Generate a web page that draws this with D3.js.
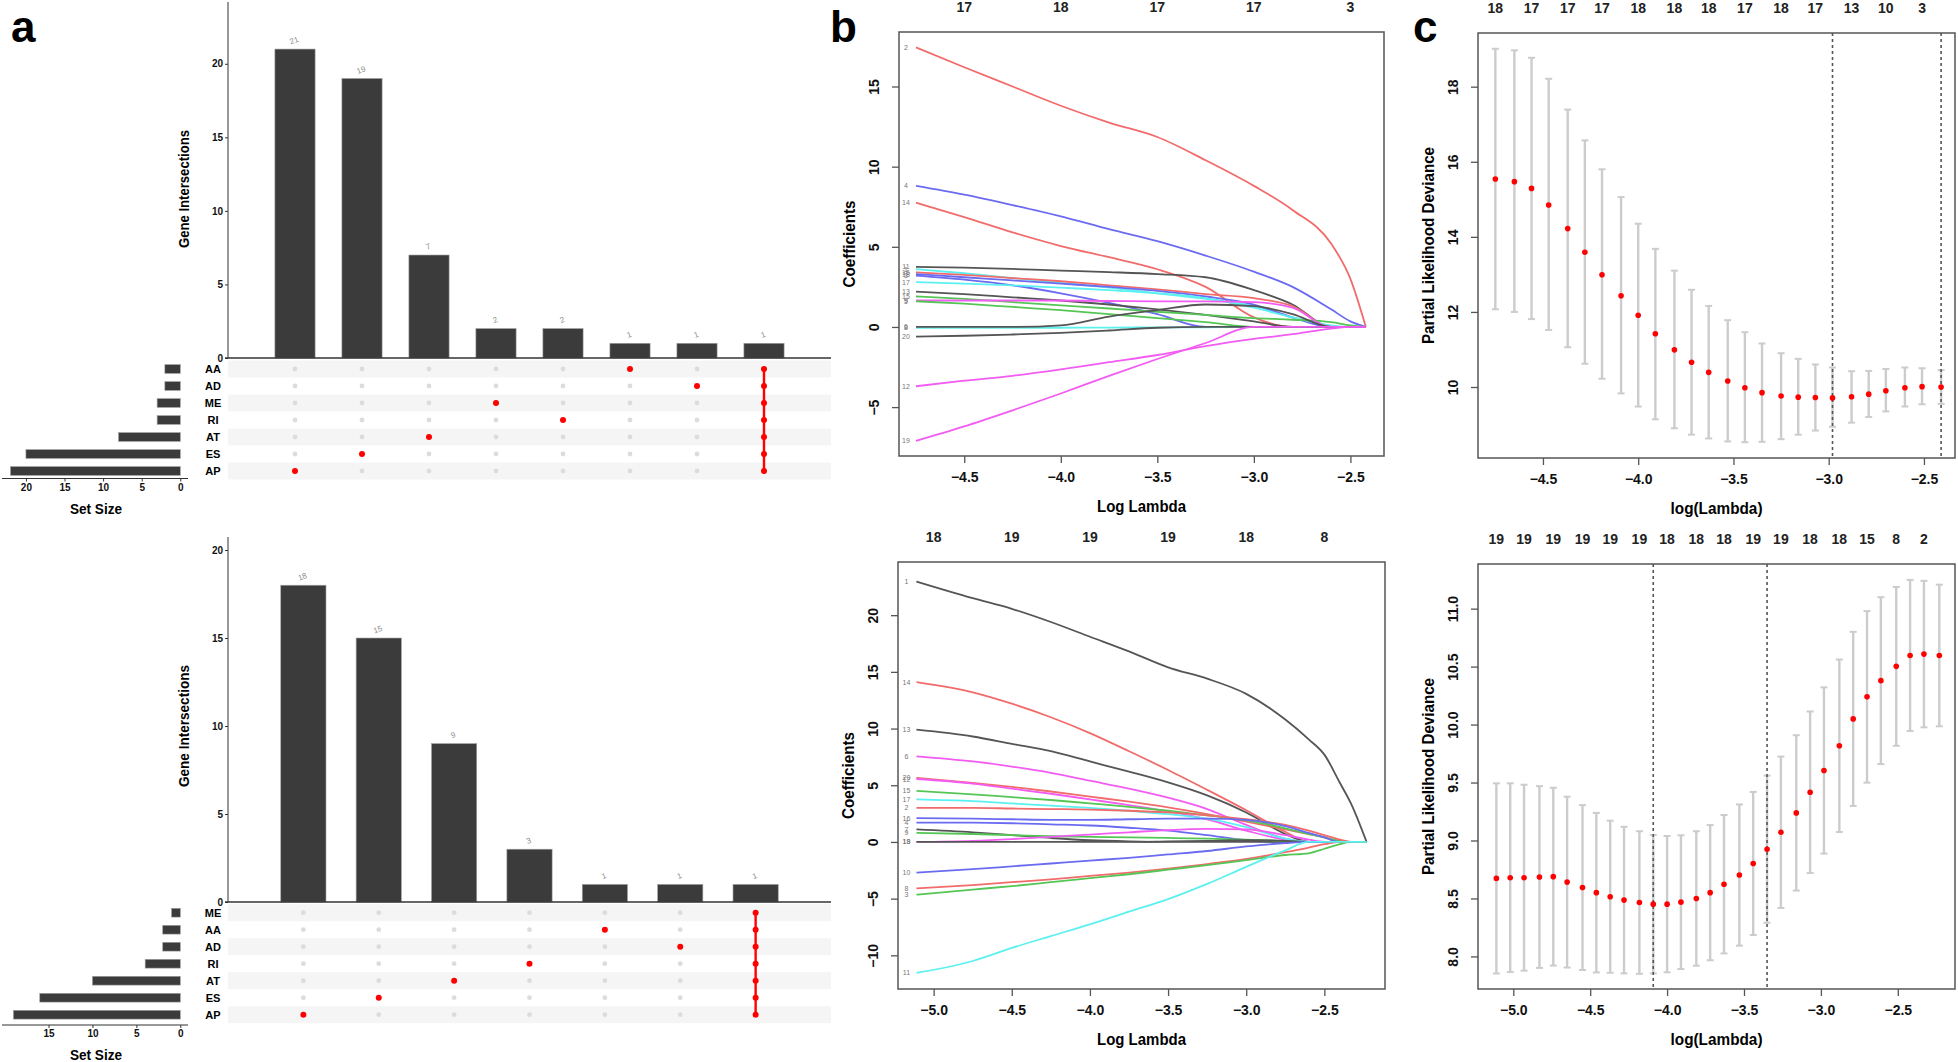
<!DOCTYPE html>
<html>
<head>
<meta charset="utf-8">
<script src="https://cdn.jsdelivr.net/npm/d3@7"></script>
<style>
  body { margin: 0; background: #fff; }
  svg { display: block; }
  text { font-family: "Liberation Sans", Arial, Helvetica, sans-serif; }
</style>
</head>
<body>
<svg id="fig" width="1958" height="1062"></svg>
<script>
// ---------- panel a : upset plots ----------
var setsA1 = ["AA", "AD", "ME", "RI", "AT", "ES", "AP"];
var setSizeA1 = [2, 2, 3, 3, 8, 20, 22];
var interCountA1 = [21, 19, 7, 2, 2, 1, 1, 1];
var interSetsA1 = [["AP"], ["ES"], ["AT"], ["ME"], ["RI"], ["AA"], ["AD"],
                   ["AA", "AD", "ME", "RI", "AT", "ES", "AP"]];
var interTicksA1 = [0, 5, 10, 15, 20];
var sizeTicksA1 = [0, 5, 10, 15, 20];

var setsA2 = ["ME", "AA", "AD", "RI", "AT", "ES", "AP"];
var setSizeA2 = [1, 2, 2, 4, 10, 16, 19];
var interCountA2 = [18, 15, 9, 3, 1, 1, 1];
var interSetsA2 = [["AP"], ["ES"], ["AT"], ["RI"], ["AA"], ["AD"],
                   ["ME", "AA", "AD", "RI", "AT", "ES", "AP"]];
var interTicksA2 = [0, 5, 10, 15, 20];
var sizeTicksA2 = [0, 5, 10, 15];

// ---------- panel b : coefficient paths ----------
var logLambdaB1 = [-4.75, -4.5, -4.25, -4.0, -3.75, -3.5, -3.25, -3.0, -2.8, -2.6, -2.5, -2.42];
var coefB1 = [
  ["2",  [17.44, 16.2, 15.0, 13.8, 12.75, 11.85, 10.4, 8.8, 7.3, 5.2, 3.0, 0]],
  ["4",  [8.8, 8.25, 7.6, 6.9, 6.1, 5.35, 4.45, 3.45, 2.5, 1.1, 0.35, 0]],
  ["14", [7.75, 6.85, 5.9, 5.05, 4.35, 3.6, 2.5, 0.6, 0, 0, 0, 0]],
  ["11", [3.75, 3.7, 3.62, 3.52, 3.42, 3.3, 3.1, 2.3, 1.4, 0, 0, 0]],
  ["1",  [3.6, 3.35, 3.05, 2.75, 2.45, 2.1, 1.75, 1.3, 0.6, 0, 0, 0]],
  ["16", [3.4, 3.25, 3.05, 2.85, 2.6, 2.35, 2.05, 1.8, 1.3, 0, 0, 0]],
  ["18", [3.3, 3.1, 2.9, 2.7, 2.5, 2.25, 1.9, 1.4, 0.6, 0, 0, 0]],
  ["3",  [3.2, 2.95, 2.6, 2.1, 1.5, 0.8, 0, 0, 0, 0, 0, 0]],
  ["17", [2.8, 2.7, 2.6, 2.45, 2.3, 2.1, 1.8, 1.2, 0.6, 0.1, 0, 0]],
  ["13", [2.2, 2.05, 1.85, 1.65, 1.4, 1.1, 0.75, 0.35, 0, 0, 0, 0]],
  ["15", [1.9, 1.75, 1.55, 1.35, 1.15, 0.95, 0.75, 0.55, 0.45, 0.3, 0.1, 0]],
  ["9",  [1.65, 1.65, 1.65, 1.65, 1.62, 1.6, 1.6, 1.55, 1.2, 0, 0, 0]],
  ["5",  [1.6, 1.45, 1.25, 1.05, 0.8, 0.55, 0.3, 0, 0, 0, 0, 0]],
  ["8",  [-0.05, -0.05, -0.05, -0.05, -0.04, -0.03, -0.02, 0, 0, 0, 0, 0]],
  ["6",  [0, 0, 0, 0.1, 0.65, 1.05, 1.4, 1.3, 0.8, 0, 0, 0]],
  ["20", [-0.6, -0.55, -0.47, -0.37, -0.22, -0.05, 0, 0, 0, 0, 0, 0]],
  ["12", [-3.7, -3.35, -3.05, -2.65, -2.2, -1.75, -1.2, -0.75, -0.45, -0.1, 0, 0]],
  ["19", [-7.1, -6.2, -5.2, -4.15, -3.05, -2.0, -1.0, 0, 0, 0, 0, 0]]
];
var colourB1 = ["r", "b", "r", "k", "c", "r", "b", "b", "c", "k", "g", "m", "g", "c", "k", "k", "m", "m"];
var topNumB1 = [17, 18, 17, 17, 3];
var xTicksB1 = [-4.5, -4.0, -3.5, -3.0, -2.5];
var yTicksB1 = [-5, 0, 5, 10, 15];

var logLambdaB2 = [-5.11, -4.75, -4.5, -4.25, -4.0, -3.75, -3.5, -3.25, -3.0, -2.75, -2.6, -2.5, -2.4, -2.33, -2.23];
var coefB2 = [
  ["1",  [22.97, 21.5, 20.56, 19.4, 18.1, 16.8, 15.4, 14.4, 13.06, 10.8, 9.05, 7.7, 5.2, 3.4, 0]],
  ["14", [14.1, 13.2, 12.2, 11.0, 9.6, 8.0, 6.35, 4.6, 2.8, 0.9, 0, 0, 0, 0, 0]],
  ["13", [9.9, 9.3, 8.65, 8.0, 7.1, 6.2, 5.25, 4.1, 2.6, 0.7, 0, 0, 0, 0, 0]],
  ["6",  [7.55, 7.1, 6.65, 6.1, 5.4, 4.7, 3.9, 2.9, 1.5, 0.3, 0, 0, 0, 0, 0]],
  ["20", [5.65, 5.2, 4.85, 4.45, 4.0, 3.55, 3.05, 2.45, 1.8, 1.1, 0.7, 0.4, 0, 0, 0]],
  ["12", [5.55, 5.15, 4.7, 4.25, 3.75, 3.25, 2.7, 2.0, 1.0, 0.2, 0, 0, 0, 0, 0]],
  ["15", [4.5, 4.2, 3.95, 3.7, 3.4, 3.1, 2.75, 2.35, 1.9, 1.2, 0.7, 0.4, 0.1, 0, 0]],
  ["17", [3.75, 3.6, 3.4, 3.2, 3.0, 2.75, 2.45, 2.05, 1.3, 0.3, 0, 0, 0, 0, 0]],
  ["2",  [3.0, 3.0, 2.95, 2.9, 2.85, 2.75, 2.6, 2.35, 2.0, 1.5, 1.0, 0.6, 0.2, 0, 0]],
  ["16", [2.1, 2.05, 2.0, 1.95, 1.95, 2.0, 2.05, 2.05, 1.95, 1.4, 0.8, 0.4, 0, 0, 0]],
  ["4",  [1.7, 1.7, 1.65, 1.55, 1.45, 1.25, 1.0, 0.6, 0.15, 0, 0, 0, 0, 0, 0]],
  ["7",  [1.1, 0.85, 0.6, 0.35, 0.15, 0.05, 0, 0, 0, 0, 0, 0, 0, 0, 0]],
  ["9",  [0.8, 0.7, 0.6, 0.5, 0.45, 0.4, 0.35, 0.3, 0.2, 0.1, 0, 0, 0, 0, 0]],
  ["18", [0, 0.1, 0.25, 0.45, 0.65, 0.85, 1.05, 1.15, 1.1, 0.6, 0.2, 0, 0, 0, 0]],
  ["19", [0, 0, 0, 0, 0, 0, 0.05, 0.1, 0.15, 0.1, 0, 0, 0, 0, 0]],
  ["10", [-2.7, -2.4, -2.15, -1.9, -1.65, -1.4, -1.1, -0.8, -0.4, -0.1, 0, 0, 0, 0, 0]],
  ["8",  [-4.1, -3.8, -3.55, -3.3, -3.0, -2.7, -2.35, -1.95, -1.5, -0.9, -0.5, -0.2, 0, 0, 0]],
  ["3",  [-4.65, -4.2, -3.9, -3.55, -3.2, -2.85, -2.45, -2.05, -1.6, -1.15, -1.0, -0.6, -0.2, 0, 0]],
  ["11", [-11.55, -10.5, -9.35, -8.3, -7.27, -6.15, -5.04, -3.7, -2.2, -0.74, 0, 0, 0, 0, 0]]
];
var colourB2 = ["k", "r", "k", "m", "r", "m", "g", "c", "r", "b", "b", "k", "g", "m", "k", "b", "r", "g", "c"];
var topNumB2 = [18, 19, 19, 19, 18, 8];
var xTicksB2 = [-5.0, -4.5, -4.0, -3.5, -3.0, -2.5];
var yTicksB2 = [-10, -5, 0, 5, 10, 15, 20];

// ---------- panel c : cross-validation curves ----------
var logLambdaC1 = [-4.75, -4.65, -4.56, -4.47, -4.37, -4.28, -4.19, -4.09, -4.00, -3.91, -3.81, -3.72, -3.63,
                   -3.53, -3.44, -3.35, -3.25, -3.16, -3.07, -2.98, -2.88, -2.79, -2.70, -2.60, -2.51, -2.41];
var cvmC1 = [15.54, 15.47, 15.29, 14.85, 14.22, 13.59, 12.99, 12.43, 11.91, 11.42, 10.99, 10.66, 10.39,
             10.16, 9.98, 9.85, 9.76, 9.73, 9.72, 9.71, 9.74, 9.81, 9.90, 9.98, 10.01, 10.0];
var cvupC1 = [19.01, 18.97, 18.77, 18.21, 17.39, 16.57, 15.80, 15.06, 14.35, 13.68, 13.10, 12.59, 12.16,
              11.78, 11.46, 11.16, 10.90, 10.75, 10.60, 10.52, 10.42, 10.43, 10.48, 10.52, 10.50, 10.45];
var cvloC1 = [12.07, 12.00, 11.81, 11.52, 11.06, 10.62, 10.22, 9.83, 9.48, 9.14, 8.90, 8.73, 8.63,
              8.55, 8.53, 8.54, 8.61, 8.73, 8.84, 8.94, 9.05, 9.20, 9.35, 9.48, 9.54, 9.55];
var nzeroC1 = [18, 17, 17, 17, 18, 18, 18, 17, 18, 17, 13, 10, 3];   // every second lambda
var selLambdaC1 = [-2.98, -2.41];
var xTicksC1 = [-4.5, -4.0, -3.5, -3.0, -2.5];
var yTicksC1 = [10, 12, 14, 16, 18];

var logLambdaC2 = [-5.11, -5.02, -4.93, -4.83, -4.74, -4.65, -4.55, -4.46, -4.37, -4.28, -4.18, -4.09, -4.00, -3.91,
                   -3.81, -3.72, -3.63, -3.53, -3.44, -3.35, -3.26, -3.16, -3.07, -2.98, -2.88, -2.79, -2.70, -2.61,
                   -2.51, -2.42, -2.33, -2.23];
var cvmC2 = [8.673, 8.679, 8.679, 8.685, 8.688, 8.641, 8.594, 8.55, 8.515, 8.486, 8.465, 8.451, 8.451, 8.468,
             8.50, 8.55, 8.623, 8.702, 8.802, 8.925, 9.071, 9.238, 9.416, 9.604, 9.817, 10.049, 10.239, 10.379,
             10.502, 10.596, 10.608, 10.596];
var cvupC2 = [9.493, 9.493, 9.481, 9.469, 9.455, 9.378, 9.305, 9.238, 9.171, 9.118, 9.08, 9.048, 9.039, 9.045,
              9.08, 9.133, 9.22, 9.311, 9.419, 9.56, 9.724, 9.908, 10.113, 10.321, 10.561, 10.80, 10.979, 11.099,
              11.187, 11.248, 11.24, 11.207];
var cvloC2 = [7.853, 7.865, 7.877, 7.901, 7.921, 7.904, 7.883, 7.862, 7.859, 7.854, 7.85, 7.854, 7.863, 7.891,
              7.92, 7.967, 8.026, 8.093, 8.185, 8.29, 8.418, 8.568, 8.719, 8.887, 9.073, 9.298, 9.499, 9.659,
              9.817, 9.944, 9.976, 9.985];
var nzeroC2 = [19, 19, 19, 19, 19, 19, 18, 18, 18, 19, 19, 18, 18, 15, 8, 2];
var selLambdaC2 = [-4.09, -3.35];
var xTicksC2 = [-5.0, -4.5, -4.0, -3.5, -3.0, -2.5];
var yTicksC2 = [8.0, 8.5, 9.0, 9.5, 10.0, 10.5, 11.0];

// R default palette, a little softened like the anti-aliased original
var rPal = {k: "#555555", r: "#F26B6B", g: "#55C655", b: "#6B6BF2", c: "#5CF0F0", m: "#F25CF2"};

var svg = d3.select("#fig");
var fmt1 = d3.format(".1f");

function upset(o) {
    var g = svg.append("g");
    var n = o.counts.length;
    var x = d3.scaleLinear().domain([0, n + 1]).range([228, 831]);
    var step = x(1) - x(0);
    var y = d3.scaleLinear().domain([0, o.yMax]).range([o.y0, o.yTop]);
    var row = d3.scalePoint().domain(o.sets).range([o.row0, o.row0 + 17 * (o.sets.length - 1)]);
    var sx = d3.scaleLinear().domain([0, o.sizeMax]).range([180.3, 2]);

    // intersection bars
    g.selectAll(".ibar").data(o.counts).enter().append("rect")
        .attr("x", function(d, i) { return x(i + 1) - step * 0.3; })
        .attr("width", step * 0.6)
        .attr("y", function(d) { return y(d); })
        .attr("height", function(d) { return y(0) - y(d); })
        .attr("fill", "#3b3b3b")
        .attr("stroke", "#a0a0a0").attr("stroke-width", 0.6);

    g.selectAll(".ilab").data(o.counts).enter().append("text")
        .attr("transform", function(d, i) { return "translate(" + x(i + 1) + "," + (y(d) - 6) + ") rotate(-20)"; })
        .attr("text-anchor", "middle")
        .attr("font-size", 8).attr("fill", "#8a8a8a")
        .text(function(d) { return d; });

    var ya = g.append("g").attr("transform", "translate(228,0)")
        .call(d3.axisLeft(y).tickValues(o.iTicks).tickSize(3).tickPadding(2));
    ya.select(".domain").remove();
    ya.selectAll("line").attr("stroke", "#333");
    ya.selectAll("text").attr("font-size", 10).attr("font-weight", "bold").attr("fill", "#111")
        .style("font-family", "'Liberation Sans', Arial, sans-serif");
    g.append("line").attr("x1", 228).attr("x2", 228).attr("y1", o.yTop).attr("y2", y(0))
        .attr("stroke", "#333").attr("stroke-width", 1);
    g.append("line").attr("x1", 225).attr("x2", 831).attr("y1", y(0)).attr("y2", y(0))
        .attr("stroke", "#333").attr("stroke-width", 1.4);

    g.append("text")
        .attr("transform", "translate(" + 189 + "," + o.titleY + ") rotate(-90)")
        .attr("text-anchor", "middle")
        .attr("font-size", 14).attr("font-weight", "bold")
        .attr("textLength", o.titleLen).attr("lengthAdjust", "spacingAndGlyphs")
        .text("Gene Intersections");

    // matrix shading
    g.selectAll(".band").data(o.sets.filter(function(d, i) { return i % 2 === 0; })).enter().append("rect")
        .attr("x", 228).attr("width", 831 - 228)
        .attr("y", function(d) { return row(d) - 8.5; }).attr("height", 17)
        .attr("fill", "#f5f5f5");

    // dots
    o.members.forEach(function(mem, i) {
        var cx = x(i + 1);
        o.sets.forEach(function(s) {
            g.append("circle").attr("cx", cx).attr("cy", row(s)).attr("r", 2.4).attr("fill", "#dcdcdc");
        });
        if (mem.length > 1) {
            var ys = mem.map(function(s) { return row(s); });
            g.append("line").attr("x1", cx).attr("x2", cx)
                .attr("y1", d3.min(ys)).attr("y2", d3.max(ys))
                .attr("stroke", "#ff0000").attr("stroke-width", 2.4);
        }
        mem.forEach(function(s) {
            g.append("circle").attr("cx", cx).attr("cy", row(s)).attr("r", 3).attr("fill", "#ff0000");
        });
    });

    // set names
    g.selectAll(".sname").data(o.sets).enter().append("text")
        .attr("x", 213).attr("y", function(d) { return row(d) + 4; })
        .attr("text-anchor", "middle").attr("font-size", 11).attr("font-weight", "bold")
        .text(function(d) { return d; });

    // set size bars
    g.selectAll(".sbar").data(o.sizes).enter().append("rect")
        .attr("x", function(d) { return sx(d); })
        .attr("width", function(d) { return sx(0) - sx(d); })
        .attr("y", function(d, i) { return row(o.sets[i]) - 4.4; })
        .attr("height", 8.8)
        .attr("fill", "#3b3b3b")
        .attr("stroke", "#a0a0a0").attr("stroke-width", 0.6);

    var sa = g.append("g").attr("transform", "translate(0," + o.sizeAxisY + ")")
        .call(d3.axisBottom(sx).tickValues(o.sTicks).tickSize(3).tickPadding(2));
    sa.select(".domain").remove();
    sa.selectAll("line").attr("stroke", "#333");
    sa.selectAll("text").attr("font-size", 10).attr("font-weight", "bold").attr("fill", "#111")
        .style("font-family", "'Liberation Sans', Arial, sans-serif");
    g.append("line").attr("x1", 2).attr("x2", 188).attr("y1", o.sizeAxisY).attr("y2", o.sizeAxisY)
        .attr("stroke", "#333").attr("stroke-width", 1.2);
    g.append("text").attr("x", 96).attr("y", o.sizeAxisY + 35)
        .attr("text-anchor", "middle").attr("font-size", 14).attr("font-weight", "bold")
        .attr("textLength", 52).attr("lengthAdjust", "spacingAndGlyphs")
        .text("Set Size");
}

function frame(g, o, x, y) {
    var xa = g.append("g").attr("transform", "translate(0," + o.y1 + ")")
        .call(d3.axisBottom(x).tickValues(o.xTicks).tickSize(7).tickPadding(9).tickFormat(fmt1));
    xa.select(".domain").remove();
    xa.selectAll("line").attr("stroke", "#555").attr("stroke-width", 1.3);
    xa.selectAll("text").attr("font-size", 14).attr("font-weight", "bold").attr("fill", "#111")
        .style("font-family", "'Liberation Sans', Arial, sans-serif");

    var yaxis = g.append("g").attr("transform", "translate(" + o.x0 + ",0)")
        .call(d3.axisLeft(y).tickValues(o.yTicks).tickSize(7).tickFormat(o.yFmt));
    yaxis.select(".domain").remove();
    yaxis.selectAll("line").attr("stroke", "#555").attr("stroke-width", 1.3);
    yaxis.selectAll("text")
        .attr("transform", "rotate(-90)").attr("x", 0).attr("y", -20).attr("dy", 0)
        .attr("text-anchor", "middle")
        .attr("font-size", 14).attr("font-weight", "bold").attr("fill", "#111")
        .style("font-family", "'Liberation Sans', Arial, sans-serif");

    g.append("rect").attr("x", o.x0).attr("y", o.y0)
        .attr("width", o.x1 - o.x0).attr("height", o.y1 - o.y0)
        .attr("fill", "none").attr("stroke", "#555").attr("stroke-width", 1.5);

    g.append("text").attr("x", (o.x0 + o.x1) / 2).attr("y", o.y1 + 56)
        .attr("text-anchor", "middle").attr("font-size", 16).attr("font-weight", "bold")
        .attr("textLength", o.xLabLen).attr("lengthAdjust", "spacingAndGlyphs")
        .text(o.xLab);
    g.append("text")
        .attr("transform", "translate(" + (o.x0 - 44) + "," + ((o.y0 + o.y1) / 2) + ") rotate(-90)")
        .attr("text-anchor", "middle").attr("font-size", 16).attr("font-weight", "bold")
        .attr("textLength", o.yLabLen).attr("lengthAdjust", "spacingAndGlyphs")
        .text(o.yLab);
}

function lasso(o) {
    var g = svg.append("g");
    var x = d3.scaleLinear().domain(o.xDom).range([o.x0, o.x1]);
    var y = d3.scaleLinear().domain(o.yDom).range([o.y1, o.y0]);
    var line = d3.line()
        .x(function(d, i) { return x(o.lambda[i]); })
        .y(function(d) { return y(d); })
        .curve(d3.curveMonotoneX);

    g.selectAll(".path").data(o.coef).enter().append("path")
        .attr("d", function(d) { return line(d[1]); })
        .attr("fill", "none")
        .attr("stroke", function(d, i) { return rPal[o.colour[i]]; })
        .attr("stroke-width", 1.8);

    g.selectAll(".vlab").data(o.coef).enter().append("text")
        .attr("x", x(o.lambda[0]) - 10)
        .attr("y", function(d) { return y(d[1][0]) + 2.5; })
        .attr("text-anchor", "middle").attr("font-size", 7).attr("fill", "#777")
        .text(function(d) { return d[0]; });

    g.selectAll(".top").data(o.topNum).enter().append("text")
        .attr("x", function(d, i) { return x(o.xTicks[i]); })
        .attr("y", o.y0 - 20)
        .attr("text-anchor", "middle").attr("font-size", 14).attr("font-weight", "bold").attr("fill", "#222")
        .text(function(d) { return d; });

    frame(g, o, x, y);
}

function cvplot(o) {
    var g = svg.append("g");
    var x = d3.scaleLinear().domain(o.xDom).range([o.x0, o.x1]);
    var y = d3.scaleLinear().domain(o.yDom).range([o.y1, o.y0]);

    o.lambda.forEach(function(l, i) {
        var cx = x(l);
        g.append("line").attr("x1", cx).attr("x2", cx).attr("y1", y(o.lo[i])).attr("y2", y(o.up[i]))
            .attr("stroke", "#cccccc").attr("stroke-width", 2.4);
        [o.lo[i], o.up[i]].forEach(function(v) {
            g.append("line").attr("x1", cx - 3.5).attr("x2", cx + 3.5).attr("y1", y(v)).attr("y2", y(v))
                .attr("stroke", "#cccccc").attr("stroke-width", 2);
        });
    });

    o.sel.forEach(function(l) {
        g.append("line").attr("x1", x(l)).attr("x2", x(l)).attr("y1", o.y0).attr("y2", o.y1)
            .attr("stroke", "#555").attr("stroke-width", 1.6).attr("stroke-dasharray", "3,3");
    });

    g.selectAll(".pt").data(o.cvm).enter().append("circle")
        .attr("cx", function(d, i) { return x(o.lambda[i]); })
        .attr("cy", function(d) { return y(d); })
        .attr("r", 2.8).attr("fill", "#ff0000");

    g.selectAll(".top").data(o.nzero).enter().append("text")
        .attr("x", function(d, i) { return x(o.lambda[i * 2]); })
        .attr("y", o.y0 - 20)
        .attr("text-anchor", "middle").attr("font-size", 14).attr("font-weight", "bold").attr("fill", "#222")
        .text(function(d) { return d; });

    frame(g, o, x, y);
}

// ---------- draw ----------
upset({ sets: setsA1, sizes: setSizeA1, counts: interCountA1, members: interSetsA1,
        iTicks: interTicksA1, sTicks: sizeTicksA1,
        yMax: 24.2, y0: 358, yTop: 2, row0: 369, sizeMax: 23.1, sizeAxisY: 478.5,
        titleY: 189, titleLen: 118 });
upset({ sets: setsA2, sizes: setSizeA2, counts: interCountA2, members: interSetsA2,
        iTicks: interTicksA2, sTicks: sizeTicksA2,
        yMax: 20.74, y0: 902, yTop: 537, row0: 912.7, sizeMax: 20.3, sizeAxisY: 1025,
        titleY: 726, titleLen: 122 });

lasso({ lambda: logLambdaB1, coef: coefB1, colour: colourB1, topNum: topNumB1,
        xTicks: xTicksB1, yTicks: yTicksB1, yFmt: d3.format("d"),
        xDom: [-4.838, -2.326], yDom: [-8.05, 18.4], x0: 899, x1: 1384, y0: 32, y1: 456,
        xLab: "Log Lambda", xLabLen: 89, yLab: "Coefficients", yLabLen: 87 });
lasso({ lambda: logLambdaB2, coef: coefB2, colour: colourB2, topNum: topNumB2,
        xTicks: xTicksB2, yTicks: yTicksB2, yFmt: d3.format("d"),
        xDom: [-5.228, -2.112], yDom: [-12.97, 24.69], x0: 898, x1: 1385, y0: 562, y1: 989,
        xLab: "Log Lambda", xLabLen: 89, yLab: "Coefficients", yLabLen: 87 });

cvplot({ lambda: logLambdaC1, cvm: cvmC1, up: cvupC1, lo: cvloC1, nzero: nzeroC1, sel: selLambdaC1,
         xTicks: xTicksC1, yTicks: yTicksC1, yFmt: d3.format("d"),
         xDom: [-4.841, -2.337], yDom: [8.109, 19.43], x0: 1478, x1: 1955, y0: 33, y1: 458,
         xLab: "log(Lambda)", xLabLen: 92, yLab: "Partial Likelihood Deviance", yLabLen: 197 });
cvplot({ lambda: logLambdaC2, cvm: cvmC2, up: cvupC2, lo: cvloC2, nzero: nzeroC2, sel: selLambdaC2,
         xTicks: xTicksC2, yTicks: yTicksC2, yFmt: fmt1,
         xDom: [-5.2295, -2.128], yDom: [7.719, 11.385], x0: 1478, x1: 1955, y0: 564, y1: 989,
         xLab: "log(Lambda)", xLabLen: 92, yLab: "Partial Likelihood Deviance", yLabLen: 197 });

// panel letters
[["a", 11], ["b", 830], ["c", 1413]].forEach(function(p) {
    svg.append("text").attr("x", p[1]).attr("y", 42)
        .attr("font-size", 44).attr("font-weight", "bold").text(p[0]);
});
</script>
</body>
</html>
